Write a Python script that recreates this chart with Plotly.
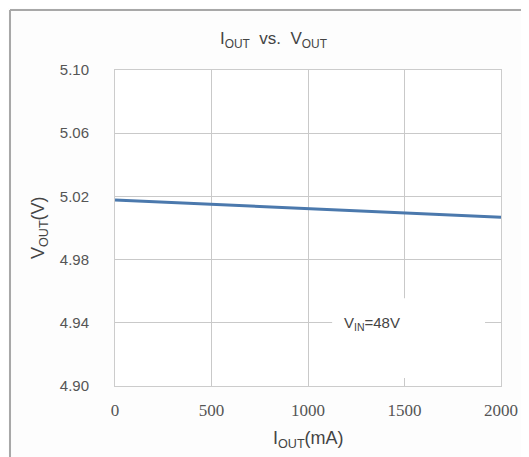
import plotly.graph_objects as go

iout_ma = [0, 500, 1000, 1500, 2000]
vout_v = [5.0178, 5.0150, 5.0122, 5.0097, 5.0068]
x_ticks = [0, 500, 1000, 1500, 2000]
y_ticks = [4.90, 4.94, 4.98, 5.02, 5.06, 5.10]
y_tick_labels = ["4.90", "4.94", "4.98", "5.02", "5.06", "5.10"]

fig = go.Figure()
fig.add_trace(go.Scatter(x=iout_ma, y=vout_v, mode="lines",
                         line=dict(color="#4b79ad", width=3), showlegend=False))

grid = "#c9c9c9"
border = "#a8a8a8"
fig.update_layout(
    width=521, height=449,
    margin=dict(l=107, r=28, t=62, b=71),
    paper_bgcolor="#fdfdfd", plot_bgcolor="#ffffff",
    xaxis=dict(range=[0, 2000], tickvals=x_ticks, showgrid=True, gridcolor=grid, gridwidth=1,
               zeroline=False, showline=True, linecolor="#cccccc", linewidth=1, mirror=True,
               ticks="", ticklabelstandoff=9,
               tickfont=dict(family="Liberation Serif", size=17, color="#555555")),
    yaxis=dict(range=[4.90, 5.10], tickvals=y_ticks, ticktext=y_tick_labels, showgrid=True,
               gridcolor=grid, gridwidth=1, zeroline=False, showline=True, linecolor="#cccccc",
               linewidth=1, mirror=True, ticks="", ticklabelstandoff=22,
               tickfont=dict(family="Liberation Sans", size=15, color="#555555")),
    shapes=[
        dict(type="rect", xref="paper", yref="paper", x0=0.5625, x1=0.9586, y0=0.025, y1=0.278,
             fillcolor="#ffffff", line=dict(width=0), layer="above"),
        dict(type="line", xref="paper", yref="paper", x0=-0.272, x1=1.2, y0=1.19, y1=1.19,
             line=dict(color=border, width=2), layer="above"),
        dict(type="line", xref="paper", yref="paper", x0=-0.272, x1=-0.272, y0=-0.3, y1=1.19,
             line=dict(color=border, width=2), layer="above"),
    ],
    annotations=[
        dict(text="I<sub>OUT</sub>  vs.  V<sub>OUT</sub>", xref="paper", yref="paper", x=0.41, y=1.0,
             yshift=30, showarrow=False, xanchor="center", yanchor="middle",
             font=dict(family="Liberation Sans Narrow, Liberation Sans", size=17, color="#444444")),
        dict(text="I<sub>OUT</sub>(mA)", xref="paper", yref="paper", x=0.5, y=0, yshift=-53,
             showarrow=False, xanchor="center", yanchor="middle",
             font=dict(family="Liberation Sans", size=18, color="#444444")),
        dict(text="V<sub>OUT</sub>(V)", xref="paper", yref="paper", x=0, y=0.5, xshift=-76, textangle=-90,
             showarrow=False, xanchor="center", yanchor="middle",
             font=dict(family="Liberation Sans", size=18, color="#444444")),
        dict(text="V<sub>IN</sub>=48V", xref="paper", yref="paper", x=0.588, y=0.199,
             showarrow=False, xanchor="left", yanchor="middle",
             font=dict(family="Liberation Sans Narrow, Liberation Sans", size=15, color="#444444")),
    ],
)

fig.write_html("out.html")
